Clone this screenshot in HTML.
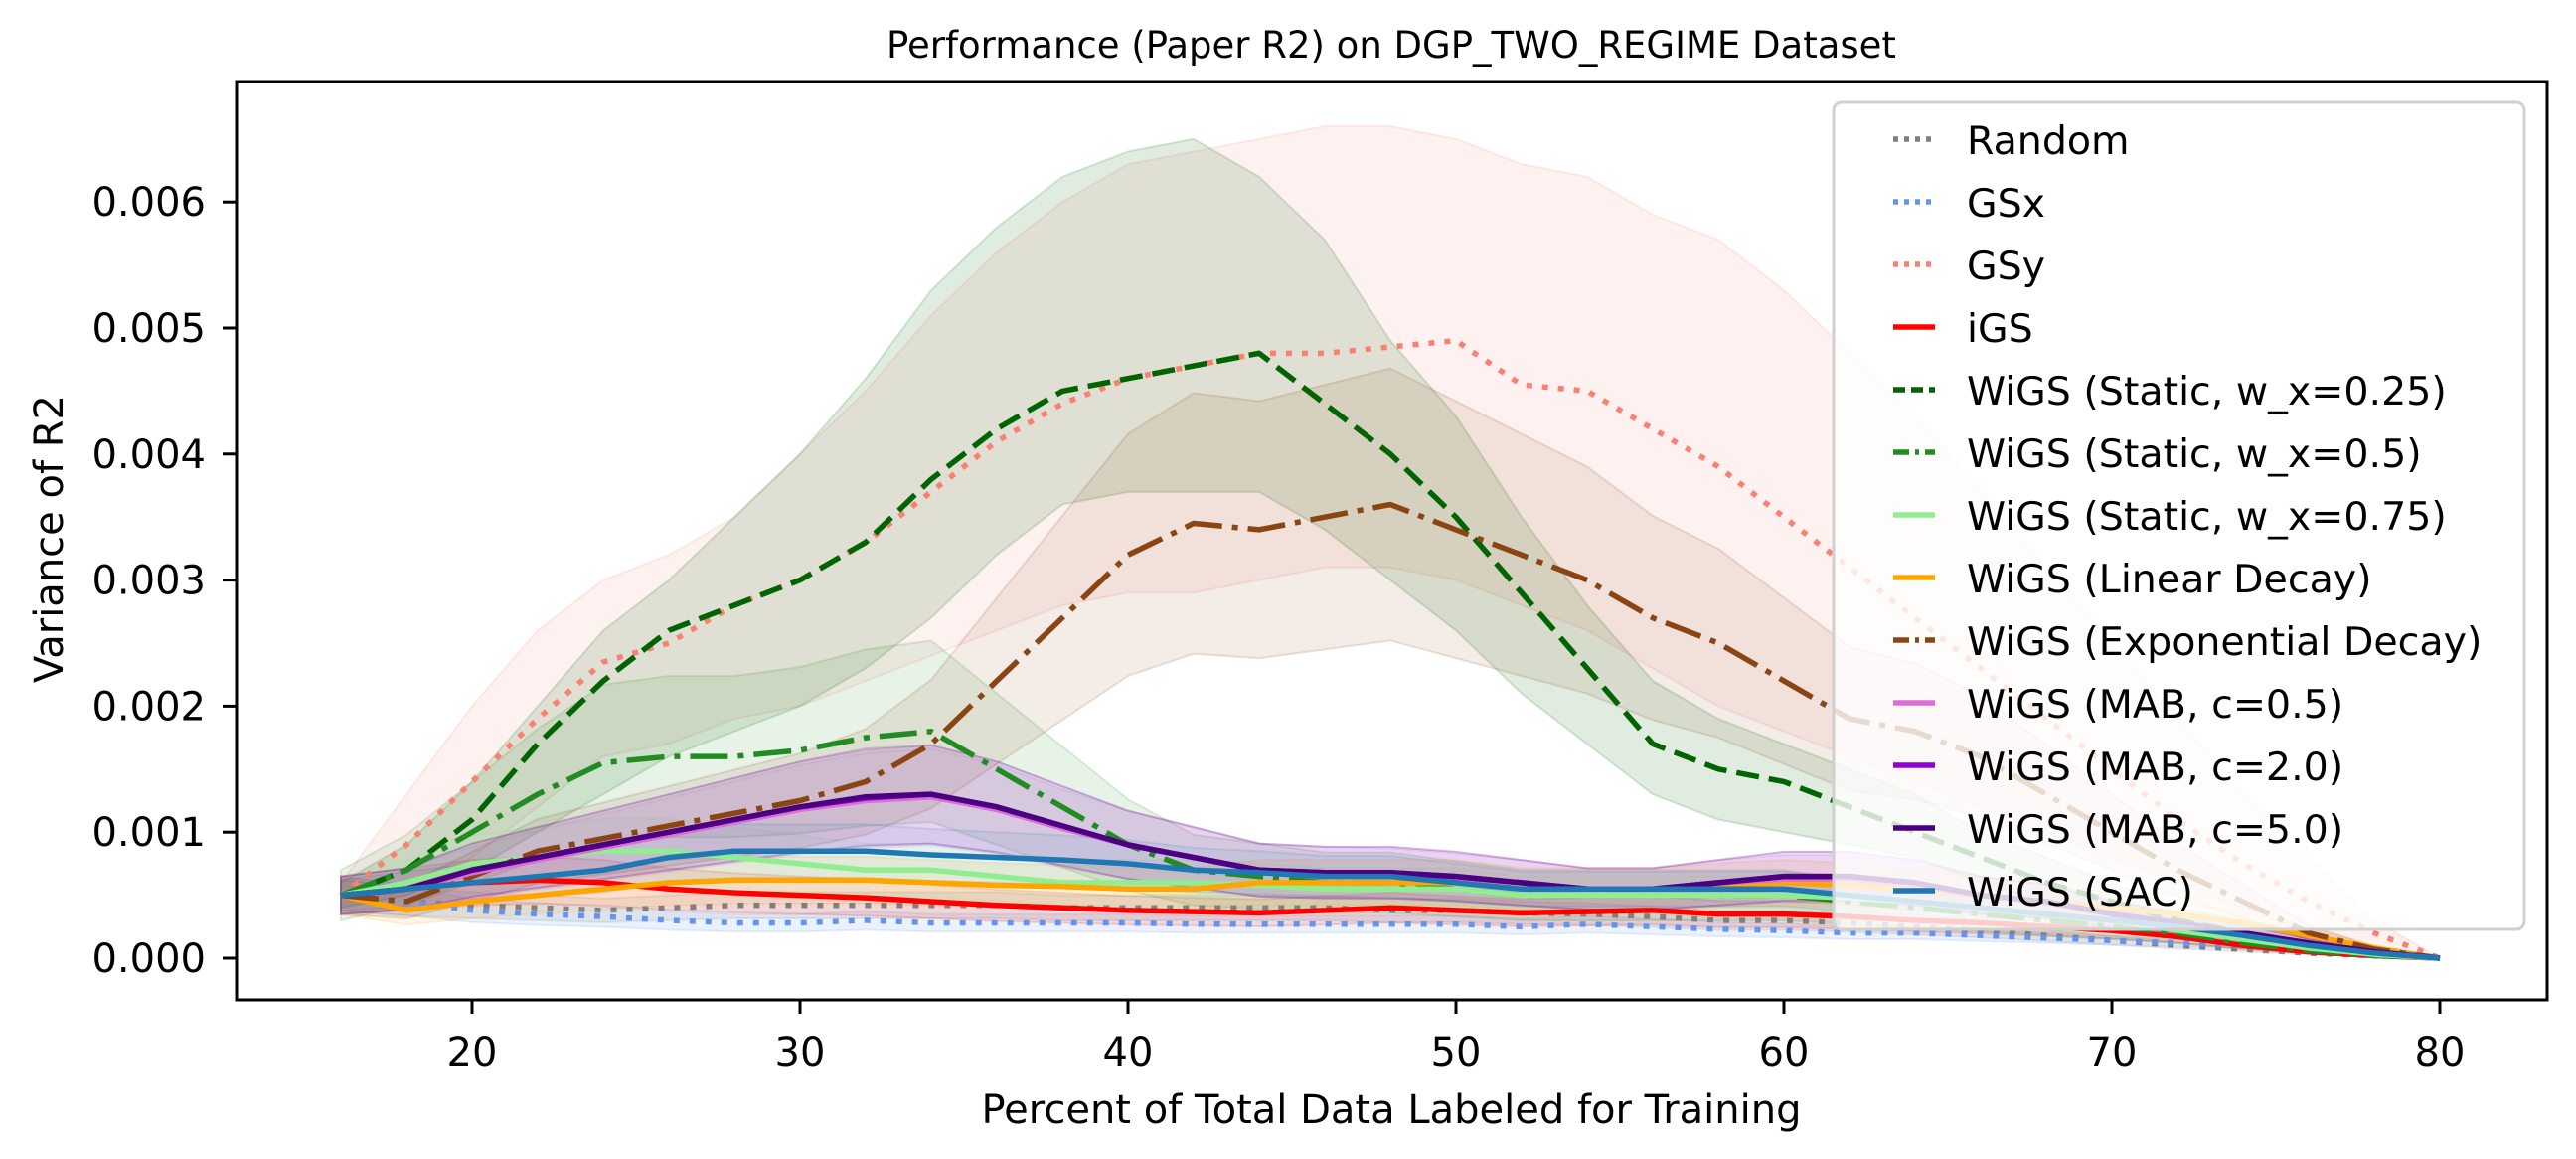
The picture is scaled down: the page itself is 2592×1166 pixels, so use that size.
<!DOCTYPE html>
<html><head><meta charset="utf-8"><style>
html,body{margin:0;padding:0;background:#fff}
svg{display:block;font-family:"DejaVu Sans","Liberation Sans",sans-serif}
</style></head><body>
<svg id="chart" width="2592" height="1166" viewBox="0 0 2592 1166" xmlns="http://www.w3.org/2000/svg">
<rect width="2592" height="1166" fill="#fff"/>
<text x="1400" y="58" font-size="37" text-anchor="middle">Performance (Paper R2) on DGP_TWO_REGIME Dataset</text>
<g id="bands"></g><g id="lines"></g><g id="axes"></g><g id="legend"></g>
<text x="1400" y="1130" font-size="40" text-anchor="middle">Percent of Total Data Labeled for Training</text>
<text transform="translate(63,542) rotate(-90)" font-size="40" text-anchor="middle">Variance of R2</text>
</svg>
<script>
const xValues=[16,18,20,22,24,26,28,30,32,34,36,38,40,42,44,46,48,50,52,54,56,58,60,62,64,66,68,70,72,74,76,78,80];
const xTicks=[20,30,40,50,60,70,80];
const yTicks=[0,0.001,0.002,0.003,0.004,0.005,0.006];
const yTickLabels=["0.000","0.001","0.002","0.003","0.004","0.005","0.006"];
// values in units of 1e-3
const randomVals=[0.5,0.45,0.42,0.4,0.38,0.4,0.42,0.42,0.42,0.42,0.42,0.4,0.4,0.4,0.4,0.4,0.38,0.38,0.36,0.35,0.33,0.3,0.3,0.28,0.25,0.22,0.18,0.14,0.1,0.07,0.04,0.02,0];
const gsxVals=[0.5,0.45,0.38,0.35,0.33,0.3,0.28,0.28,0.3,0.28,0.28,0.28,0.28,0.27,0.27,0.27,0.27,0.27,0.25,0.27,0.25,0.23,0.22,0.2,0.2,0.18,0.16,0.14,0.12,0.1,0.06,0.03,0];
const gsyVals=[0.5,0.9,1.4,1.9,2.35,2.5,2.8,3.0,3.3,3.7,4.1,4.4,4.6,4.7,4.8,4.8,4.85,4.9,4.55,4.5,4.2,3.9,3.5,3.1,2.7,2.3,1.9,1.5,1.1,0.75,0.45,0.2,0];
const gsyUpper=[0.6,1.3,2.0,2.6,3.0,3.2,3.5,4.0,4.5,5.1,5.6,6.0,6.3,6.4,6.5,6.6,6.6,6.5,6.3,6.2,5.9,5.7,5.3,4.8,4.3,3.7,3.1,2.5,1.9,1.3,0.8,0.3,0];
const gsyLower=[0.4,0.5,0.8,1.2,1.6,1.7,1.9,2.0,2.2,2.4,2.6,2.8,2.9,2.9,3.0,3.1,3.1,3.0,2.8,2.6,2.3,2.0,1.8,1.6,1.4,1.2,1.0,0.8,0.6,0.4,0.2,0.08,0];
const igsVals=[0.5,0.55,0.6,0.62,0.6,0.55,0.52,0.5,0.48,0.45,0.42,0.4,0.38,0.37,0.36,0.38,0.4,0.38,0.36,0.37,0.38,0.35,0.35,0.33,0.3,0.28,0.25,0.22,0.17,0.1,0.05,0.02,0];
const w25Vals=[0.5,0.7,1.1,1.7,2.2,2.6,2.8,3.0,3.3,3.8,4.2,4.5,4.6,4.7,4.8,4.4,4.0,3.5,2.9,2.3,1.7,1.5,1.4,1.2,1.0,0.8,0.6,0.45,0.3,0.2,0.1,0.05,0];
const w25Upper=[0.6,0.9,1.4,2.0,2.6,3.0,3.5,4.0,4.6,5.3,5.8,6.2,6.4,6.5,6.2,5.7,4.9,4.3,3.5,2.8,2.2,1.9,1.7,1.5,1.3,1.0,0.8,0.6,0.4,0.3,0.15,0.05,0];
const w25Lower=[0.4,0.5,0.7,1.0,1.3,1.6,1.8,2.0,2.3,2.7,3.2,3.6,3.7,3.7,3.7,3.4,3.0,2.6,2.1,1.7,1.3,1.1,1.0,0.9,0.8,0.6,0.45,0.3,0.2,0.12,0.06,0.02,0];
const w50Vals=[0.5,0.7,1.0,1.3,1.55,1.6,1.6,1.65,1.75,1.8,1.5,1.2,0.9,0.7,0.65,0.6,0.6,0.55,0.5,0.5,0.5,0.5,0.5,0.45,0.4,0.35,0.3,0.25,0.2,0.12,0.06,0.02,0];
const w75Vals=[0.5,0.6,0.75,0.8,0.85,0.85,0.8,0.75,0.7,0.7,0.65,0.6,0.6,0.6,0.58,0.55,0.55,0.55,0.5,0.5,0.5,0.5,0.5,0.48,0.45,0.4,0.35,0.3,0.22,0.15,0.08,0.03,0];
const linVals=[0.5,0.38,0.45,0.5,0.55,0.6,0.62,0.62,0.62,0.6,0.58,0.57,0.55,0.55,0.6,0.6,0.6,0.6,0.55,0.55,0.55,0.58,0.6,0.58,0.55,0.5,0.45,0.4,0.35,0.28,0.18,0.08,0];
const expVals=[0.5,0.45,0.65,0.85,0.95,1.05,1.15,1.25,1.4,1.7,2.2,2.7,3.2,3.45,3.4,3.5,3.6,3.4,3.2,3.0,2.7,2.5,2.2,1.9,1.8,1.6,1.3,1.0,0.7,0.45,0.2,0.07,0];
const mab05Vals=[0.5,0.55,0.68,0.78,0.88,0.98,1.08,1.18,1.25,1.28,1.18,1.03,0.9,0.8,0.7,0.68,0.67,0.64,0.6,0.55,0.55,0.6,0.63,0.63,0.58,0.5,0.44,0.35,0.28,0.2,0.12,0.05,0];
const mab2Vals=[0.5,0.55,0.7,0.8,0.9,1.0,1.1,1.2,1.27,1.3,1.2,1.05,0.9,0.8,0.7,0.68,0.68,0.65,0.6,0.55,0.55,0.6,0.65,0.65,0.6,0.5,0.45,0.35,0.28,0.2,0.12,0.05,0];
const mab5Vals=[0.5,0.55,0.7,0.8,0.9,1.0,1.1,1.2,1.28,1.3,1.2,1.05,0.9,0.8,0.7,0.68,0.68,0.65,0.6,0.55,0.55,0.6,0.65,0.65,0.6,0.5,0.45,0.35,0.28,0.2,0.12,0.05,0];
const sacVals=[0.5,0.55,0.6,0.65,0.7,0.8,0.85,0.85,0.85,0.82,0.8,0.78,0.75,0.7,0.68,0.65,0.65,0.6,0.55,0.55,0.55,0.55,0.55,0.5,0.45,0.4,0.35,0.3,0.25,0.18,0.1,0.04,0];
const seriesNames=["Random","GSx","GSy","iGS","WiGS (Static, w_x=0.25)","WiGS (Static, w_x=0.5)","WiGS (Static, w_x=0.75)","WiGS (Linear Decay)","WiGS (Exponential Decay)","WiGS (MAB, c=0.5)","WiGS (MAB, c=2.0)","WiGS (MAB, c=5.0)","WiGS (SAC)"];

const R=2563,T=82,B=1006;
function xs(v){return 475+(v-20)*33;}
function ys(v){return 964-v*126800;}
const NS="http://www.w3.org/2000/svg";
function mk(tag,attrs,parent){const e=document.createElementNS(NS,tag);for(const k in attrs)e.setAttribute(k,attrs[k]);parent.appendChild(e);return e;}
const dot="6,10",dash="23,10",dashdot="38,10,6,10";
const series=[
 {v:randomVals,c:"#808080",d:dot,k:0.25,a:0.12},
 {v:gsxVals,c:"#6495ED",d:dot,k:0.25,a:0.12},
 {v:gsyVals,c:"#FA8072",d:dot,up:gsyUpper,lo:gsyLower,a:0.1},
 {v:igsVals,c:"#FF0000",d:null,k:0.3,a:0.1},
 {v:w25Vals,c:"#006400",d:dash,up:w25Upper,lo:w25Lower,a:0.12},
 {v:w50Vals,c:"#228B22",d:dashdot,k:0.4,a:0.1},
 {v:w75Vals,c:"#90EE90",d:null,k:0.3,a:0.1},
 {v:linVals,c:"#FFA500",d:null,k:0.3,a:0.1},
 {v:expVals,c:"#8B4513",d:dashdot,k:0.3,a:0.1},
 {v:mab05Vals,c:"#DA70D6",d:null,k:0.3,a:0.08},
 {v:mab2Vals,c:"#9400D3",d:null,k:0.3,a:0.08},
 {v:mab5Vals,c:"#4B0082",d:null,k:0.3,a:0.06},
 {v:sacVals,c:"#1f77b4",d:null,k:0.25,a:0.08}
];
const bands=document.getElementById('bands'),lines=document.getElementById('lines'),axes=document.getElementById('axes'),leg=document.getElementById('legend');
series.forEach((s,i)=>{
 const up=s.up?s.up:s.v.map(v=>v*(1+s.k));
 const lo=s.lo?s.lo:s.v.map(v=>v*(1-s.k));
 let d="M"+xValues.map((x,j)=>xs(x)+","+ys(up[j]/1000)).join("L");
 d+="L"+xValues.map((x,j)=>[xs(x),ys(lo[j]/1000)]).reverse().map(p=>p.join(",")).join("L")+"Z";
 const b=mk('path',{d:d,fill:s.c,'fill-opacity':s.a,stroke:s.c,'stroke-opacity':0.15,'stroke-width':2},bands);
 
 
 const p=mk('polyline',{points:xValues.map((x,j)=>xs(x)+","+ys(s.v[j]/1000)).join(" "),fill:"none",stroke:s.c,'stroke-width':5.5,'stroke-linejoin':'round'},lines);
 if(s.d)p.setAttribute('stroke-dasharray',s.d);
 
 
});
const frame=mk('rect',{x:238,y:T,width:R-238,height:B-T,fill:"none",stroke:"#000",'stroke-width':3},axes);


xTicks.forEach(t=>{
 const x=xs(t);
 const tk=mk('line',{x1:x,x2:x,y1:B,y2:B+14,stroke:"#000",'stroke-width':3},axes);
 
 
 const tx=mk('text',{x:x,y:B+66,'font-size':40,'text-anchor':'middle'},axes);tx.textContent=t;
 
 
});
yTicks.forEach((t,i)=>{
 const y=ys(t);
 const tk=mk('line',{x1:238,x2:224,y1:y,y2:y,stroke:"#000",'stroke-width':3},axes);
 
 
 const tx=mk('text',{x:207,y:y+14,'font-size':40,'text-anchor':'end'},axes);tx.textContent=yTickLabels[i];
 
 
});
const box=mk('rect',{x:1845,y:103,width:695,height:832,rx:8,fill:"#fff",'fill-opacity':0.8,stroke:"#d0d0d0",'stroke-width':3},leg);


seriesNames.forEach((n,i)=>{
 const y=140+i*63;
 const s=series[i];
 const ln=mk('line',{x1:1905,x2:1947,y1:y,y2:y,stroke:s.c,'stroke-width':5.5},leg);
 if(s.d)ln.setAttribute('stroke-dasharray',s.d==dashdot?"16,6,4,6":(s.d==dash?"12,6":"5,6"));
 
 
 const tx=mk('text',{x:1979,y:y+15,'font-size':39.5},leg);tx.textContent=n;
 
 
});
</script>
</body></html>
